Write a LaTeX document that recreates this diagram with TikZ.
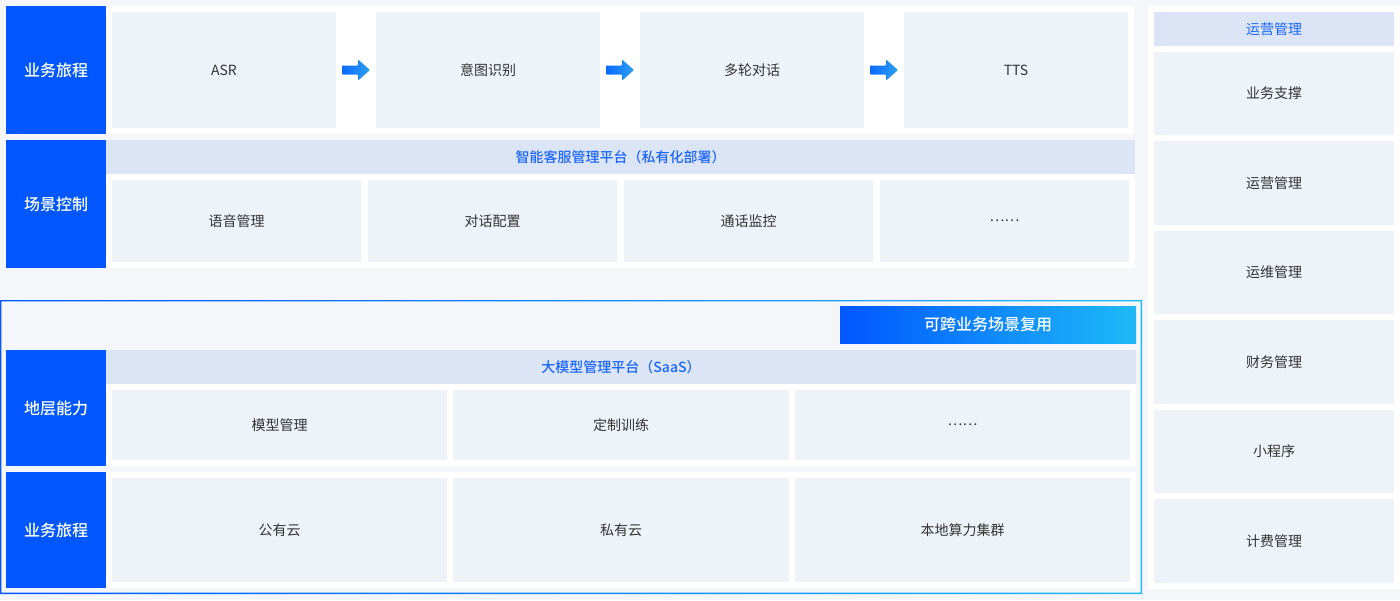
\documentclass[tikz,border=0pt]{standalone}
\usepackage{fontspec}
\setmainfont{Noto Sans CJK SC}[BoldFont={Noto Sans CJK SC Medium}]
\usetikzlibrary{calc}
\definecolor{pagebg}{HTML}{F4F6FA}
\definecolor{mainblue}{HTML}{0057FF}
\definecolor{cellfill}{HTML}{EEF3FA}
\definecolor{headfill}{HTML}{DCE5F5}
\definecolor{headtext}{HTML}{1A66FF}
\definecolor{celltext}{HTML}{333333}
\definecolor{arrowA}{HTML}{0A68FF}
\definecolor{arrowB}{HTML}{2BA3F2}
\definecolor{badgeA}{HTML}{0057FF}
\definecolor{badgeB}{HTML}{1EB9F6}
\newcommand\flowarrow[2]{%
  \begin{scope}[shift={($(#1.east)!0.5!(#2.west)$)}]
    \shade[left color=arrowA,right color=arrowB,rounded corners=0.8pt]
      (-14,-4.5) -- (2,-4.5) -- (2,-10.5) -- (14,0) -- (2,10.5) -- (2,4.5) -- (-14,4.5) -- cycle;
  \end{scope}}
\tikzset{
  base/.style={anchor=north west,inner sep=0pt,outer sep=0pt,
    execute at begin node={\lower1pt\hbox\bgroup},execute at end node={\egroup}},
  label/.style={base,fill=mainblue,text=white,font=\fontsize{16}{18}\selectfont\bfseries},
  cell/.style={base,fill=cellfill,text=celltext,font=\fontsize{14}{16}\selectfont},
  headband/.style={base,fill=headfill,text=headtext,font=\fontsize{14}{16}\selectfont\bfseries},
  panel/.style={fill=white},
}
\begin{document}
\begin{tikzpicture}[x=1pt,y=-1pt]
\fill[pagebg] (0,0) rectangle (1400,600);
\useasboundingbox (0,0) rectangle (1400,600);
% ---------- top area ----------
\fill[panel] (6,6) rectangle (1134,134);
\fill[panel] (6,140) rectangle (1135,268);
\node[label,minimum width=100pt,minimum height=128pt] (l1) at (6,6) {业务旅程};
\node[cell,minimum width=224pt,minimum height=116pt] (asr) at (112,12) {ASR};
\node[cell,minimum width=224pt,minimum height=116pt] (intent) at (376,12) {意图识别};
\node[cell,minimum width=224pt,minimum height=116pt] (dialog) at (640,12) {多轮对话};
\node[cell,minimum width=224pt,minimum height=116pt] (tts) at (904,12) {TTS};
\flowarrow{asr}{intent}
\flowarrow{intent}{dialog}
\flowarrow{dialog}{tts}
\node[label,minimum width=100pt,minimum height=128pt] (l2) at (6,140) {场景控制};
\node[headband,minimum width=1029pt,minimum height=34pt] (h1) at (106,140) {智能客服管理平台（私有化部署）};
\node[cell,minimum width=249pt,minimum height=82pt] (c1) at (112,180) {语音管理};
\node[cell,minimum width=249pt,minimum height=82pt] (c2) at (368,180) {对话配置};
\node[cell,minimum width=249pt,minimum height=82pt] (c3) at (624,180) {通话监控};
\node[cell,minimum width=249pt,minimum height=82pt] (c4) at (880,180) {……};
% ---------- bottom area ----------
\shade[left color=mainblue,right color=badgeB,even odd rule]
  (0,300) rectangle (1142,594) (1.3,301.3) rectangle (1140.7,592.7);
\node[base,left color=badgeA,right color=badgeB,text=white,minimum width=296pt,minimum height=37pt,font=\fontsize{16}{18}\selectfont\bfseries] (badge) at (840,306) {可跨业务场景复用};
\fill[panel] (6,350) rectangle (1136,466);
\fill[panel] (6,472) rectangle (1136,588);
\node[label,minimum width=100pt,minimum height=116pt] (l3) at (6,350) {地层能力};
\node[headband,minimum width=1030pt,minimum height=34pt] (h2) at (106,350) {大模型管理平台（SaaS）};
\node[cell,minimum width=335pt,minimum height=70pt] (m1) at (112,390) {模型管理};
\node[cell,minimum width=336pt,minimum height=70pt] (m2) at (453,390) {定制训练};
\node[cell,minimum width=335pt,minimum height=70pt] (m3) at (795,390) {……};
\node[label,minimum width=100pt,minimum height=116pt] (l4) at (6,472) {业务旅程};
\node[cell,minimum width=335pt,minimum height=104pt] (d1) at (112,478) {公有云};
\node[cell,minimum width=336pt,minimum height=104pt] (d2) at (453,478) {私有云};
\node[cell,minimum width=335pt,minimum height=104pt] (d3) at (795,478) {本地算力集群};
% ---------- right column ----------
\fill[panel] (1148,6) rectangle (1400,589);
\node[headband,minimum width=240pt,minimum height=34pt,font=\fontsize{14}{16}\selectfont] (rh) at (1154,12) {运营管理};
\node[cell,minimum width=240pt,minimum height=83pt] (r1) at (1154,52) {业务支撑};
\node[cell,minimum width=240pt,minimum height=84pt] (r2) at (1154,141) {运营管理};
\node[cell,minimum width=240pt,minimum height=83pt] (r3) at (1154,231) {运维管理};
\node[cell,minimum width=240pt,minimum height=84pt] (r4) at (1154,320) {财务管理};
\node[cell,minimum width=240pt,minimum height=83pt] (r5) at (1154,410) {小程序};
\node[cell,minimum width=240pt,minimum height=84pt] (r6) at (1154,499) {计费管理};
\end{tikzpicture}
\end{document}
